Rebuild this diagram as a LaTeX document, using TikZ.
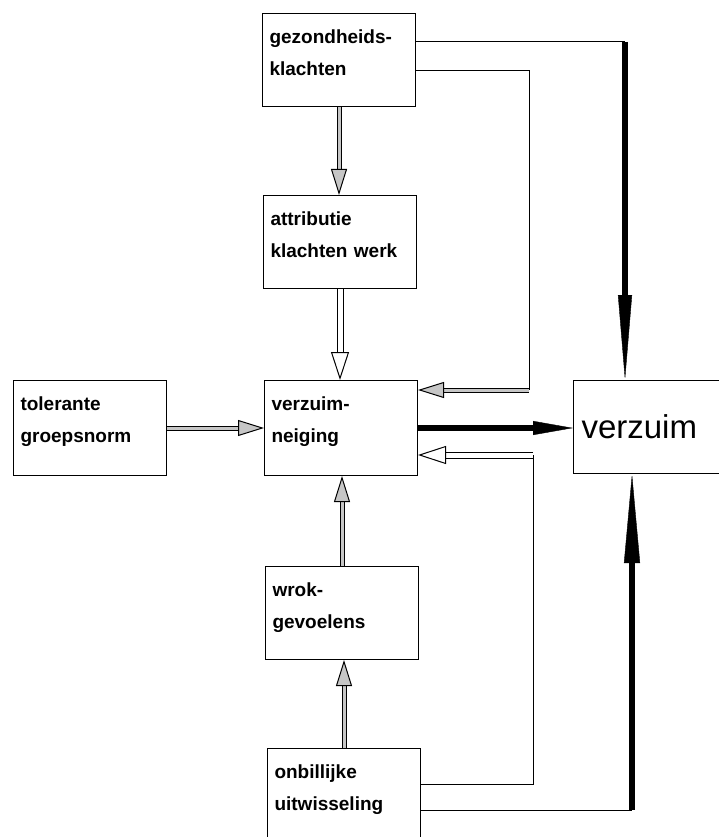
\documentclass[tikz,border=0pt]{standalone}
\usepackage{fontspec}
\setmainfont{Liberation Sans}
\usetikzlibrary{arrows.meta}

\tikzset{
  blok/.style={draw, line width=1pt, anchor=north west, inner xsep=7pt, inner ysep=4pt,
    text width=139pt, align=left, text height=26pt, text depth=59pt,
    font=\fontsize{19}{32}\selectfont\bfseries},
  dun/.style={line width=1pt},
  dik/.style={line width=6.5pt},
  grijs/.style={line width=1pt, double=gray!45, double distance=3pt,
    -{Triangle[open, fill=gray!45, length=26pt, width=16pt]}},
  wit/.style={line width=1pt, double=white, double distance=5pt,
    -{Triangle[open, fill=white, length=28pt, width=18pt]}}
}

\begin{document}
\begin{tikzpicture}[x=1pt, y=-1pt]
  \clip (0,0) rectangle (719,837);

  % Blokken
  \node[blok] (gez) at (262,13) {gezondheids-\\klachten};
  \node[blok] (attr) at (263,195) {attributie\\klachten werk};
  \node[blok, text depth=61pt] (neig) at (264,380) {verzuim-\\neiging};
  \node[blok, text depth=61pt] (tol) at (13,380) {tolerante\\groepsnorm};
  \node[blok] (wrok) at (265,566) {wrok-\\gevoelens};
  \node[blok] (onb) at (267,748) {onbillijke\\uitwisseling};
  \node[draw, line width=1pt, anchor=north west, inner xsep=8pt, text width=150pt,
    align=left, minimum height=93pt, font=\fontsize{33}{36}\selectfont] (verz) at (573,380) {verzuim};

  % Pijlen in het midden
  \draw[grijs] (gez.south) -- (gez.south |- attr.north);
  \draw[wit] (attr.south) -- (attr.south |- neig.north);
  \draw[grijs] (tol.east) -- (tol.east -| neig.west);
  \draw[grijs] (wrok.north) -- (wrok.north |- neig.south);
  \draw[grijs] (onb.north) -- (onb.north |- wrok.south);

  % Terugkoppeling naar neiging
  \coordinate (hoekB) at (529,71);
  \coordinate (hoekC) at (529,390);
  \draw[dun] ([yshift=-58pt]gez.north east) -- (hoekB) -- (hoekC);
  \draw[grijs] (hoekC) -- (hoekC -| neig.east);

  \coordinate (hoekD) at (533,784);
  \coordinate (hoekE) at (533,455);
  \draw[dun] ([yshift=-36pt]onb.north east) -- (hoekD) -- (hoekE);
  \draw[wit] (hoekE) -- (hoekE -| neig.east);

  % Dikke pijlen naar verzuim
  \coordinate (hoekA) at (625,42);
  \draw[dun] ([yshift=-29pt]gez.north east) -- (hoekA);
  \draw[dik, -{Triangle[length=85pt, width=14pt, line width=0.4pt]}] (hoekA) -- (hoekA |- verz.north);

  \draw[dik, -{Triangle[length=40pt, width=14pt, line width=0.4pt]}] (neig.east) -- (neig.east -| verz.west);

  \coordinate (hoekF) at (632,810);
  \draw[dun] ([yshift=-62pt]onb.north east) -- (hoekF);
  \draw[dik, -{Triangle[length=89pt, width=16pt, line width=0.4pt]}] (hoekF) -- (hoekF |- verz.south);
\end{tikzpicture}
\end{document}
